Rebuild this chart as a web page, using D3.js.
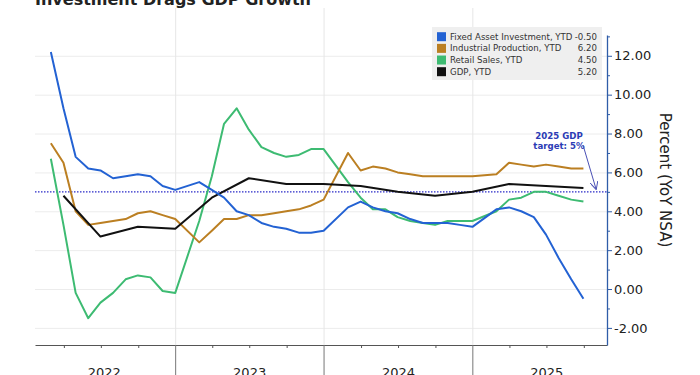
<!DOCTYPE html>
<html>
<head>
<meta charset="utf-8">
<script src="https://cdn.jsdelivr.net/npm/d3@7"></script>
<style>
  html, body { margin: 0; padding: 0; background: #fff; }
  svg { display: block; font-family: "DejaVu Sans", Verdana, sans-serif; }
  .grid line { stroke: #ececec; }
  .grid path { display: none; }
</style>
</head>
<body>
<div id="chart"></div>
<script>
// monthly YTD series (no January release)
var months = [
  "2022-02","2022-03","2022-04","2022-05","2022-06","2022-07","2022-08","2022-09","2022-10","2022-11","2022-12",
  "2023-02","2023-03","2023-04","2023-05","2023-06","2023-07","2023-08","2023-09","2023-10","2023-11","2023-12",
  "2024-02","2024-03","2024-04","2024-05","2024-06","2024-07","2024-08","2024-09","2024-10","2024-11","2024-12",
  "2025-02","2025-03","2025-04","2025-05","2025-06","2025-07","2025-08","2025-09"
];
var faiValues = [
  12.2, 9.3, 6.8, 6.2, 6.1, 5.7, 5.8, 5.9, 5.8, 5.3, 5.1,
  5.5, 5.1, 4.7, 4.0, 3.8, 3.4, 3.2, 3.1, 2.9, 2.9, 3.0,
  4.2, 4.5, 4.2, 4.0, 3.9, 3.6, 3.4, 3.4, 3.4, 3.3, 3.2,
  4.1, 4.2, 4.0, 3.7, 2.8, 1.6, 0.5, -0.5
];
var ipValues = [
  7.5, 6.5, 4.0, 3.3, 3.4, 3.5, 3.6, 3.9, 4.0, 3.8, 3.6,
  2.4, 3.0, 3.6, 3.6, 3.8, 3.8, 3.9, 4.0, 4.1, 4.3, 4.6,
  7.0, 6.1, 6.3, 6.2, 6.0, 5.9, 5.8, 5.8, 5.8, 5.8, 5.8,
  5.9, 6.5, 6.4, 6.3, 6.4, 6.3, 6.2, 6.2
];
var rsValues = [
  6.7, 3.3, -0.2, -1.5, -0.7, -0.2, 0.5, 0.7, 0.6, -0.1, -0.2,
  3.5, 5.8, 8.5, 9.3, 8.2, 7.3, 7.0, 6.8, 6.9, 7.2, 7.2,
  5.5, 4.7, 4.1, 4.1, 3.7, 3.5, 3.4, 3.3, 3.5, 3.5, 3.5,
  4.0, 4.6, 4.7, 5.0, 5.0, 4.8, 4.6, 4.5
];
// quarterly GDP YTD
var gdpMonths = [
  "2022-03","2022-06","2022-09","2022-12",
  "2023-03","2023-06","2023-09","2023-12",
  "2024-03","2024-06","2024-09","2024-12",
  "2025-03","2025-06","2025-09"
];
var gdpValues = [4.8, 2.7, 3.2, 3.1, 4.7, 5.7, 5.4, 5.4, 5.3, 5.0, 4.8, 5.0, 5.4, 5.3, 5.2];

var seriesNames = ["Fixed Asset Investment, YTD", "Industrial Production, YTD", "Retail Sales, YTD", "GDP, YTD"];
var seriesColors = ["#2362d3", "#bb7f22", "#3dbb72", "#111111"];
var lastValues = ["-0.50", "6.20", "4.50", "5.20"];
var yTicks = [-2, 0, 2, 4, 6, 8, 10, 12];
var yMinorTicks = [-1, 1, 3, 5, 7, 9, 11, 13];
var years = [2022, 2023, 2024, 2025];
var targetValue = 5;

function monthEnd(s) {
    var p = s.split("-");
    return new Date(+p[0], +p[1], 0);
}

var W = 700, H = 375;
var plotLeft = 35, plotRight = 607, plotTop = 35, plotBottom = 345;

var svg = d3.select("#chart").append("svg")
    .attr("width", W).attr("height", H)
    .attr("viewBox", "0 0 " + W + " " + H);

var x = d3.scaleTime()
    .domain([new Date(2022, 0, 20), new Date(2025, 10, 27)])
    .range([plotLeft, plotRight]);
var y = d3.scaleLinear()
    .domain([-2.88, 13.07])
    .range([plotBottom, plotTop]);

// gridlines
svg.append("g")
    .attr("class", "grid")
    .attr("transform", "translate(" + plotLeft + ",0)")
    .call(d3.axisRight(y).tickValues(yTicks).tickSize(plotRight - plotLeft).tickFormat(""));

var yearStarts = years.slice(1).map(function(yr) { return new Date(yr, 0, 1); });
svg.append("g").selectAll("line")
    .data(yearStarts)
    .enter().append("line")
    .attr("x1", function(d) { return x(d); }).attr("x2", function(d) { return x(d); })
    .attr("y1", 8).attr("y2", plotBottom)
    .attr("stroke", "#e6e6e6");

// title (cropped at top)
svg.append("text")
    .attr("x", plotLeft).attr("y", 5)
    .style("font-size", "16px").style("font-weight", "bold")
    .style("fill", "#222")
    .text("Investment Drags GDP Growth");

// x axis
var quarters = [];
years.forEach(function(yr) {
    [3, 6, 9].forEach(function(m) { quarters.push(new Date(yr, m, 1)); });
});
var xAxis = svg.append("g")
    .attr("transform", "translate(0," + plotBottom + ")")
    .call(d3.axisBottom(x).tickValues(quarters).tickSize(3).tickFormat("").tickSizeOuter(0));
xAxis.select(".domain").attr("stroke", "#555");
xAxis.selectAll(".tick line").attr("stroke", "#555");

svg.append("g").selectAll("line")
    .data(yearStarts)
    .enter().append("line")
    .attr("x1", function(d) { return x(d); }).attr("x2", function(d) { return x(d); })
    .attr("y1", plotBottom).attr("y2", H)
    .attr("stroke", "#777");

svg.append("g").selectAll("text")
    .data(years)
    .enter().append("text")
    .attr("x", function(d) { return x(new Date(d, 6, 2)) + (d === 2022 ? 3 : 0); })
    .attr("y", 377)
    .attr("text-anchor", "middle")
    .style("font-size", "13px")
    .style("fill", "#222")
    .text(function(d) { return d; });

// y axis (right)
var fmt = d3.format(".2f");
var yAxis = svg.append("g")
    .attr("transform", "translate(" + plotRight + ",0)")
    .call(d3.axisRight(y).tickValues(yTicks).tickSize(5).tickPadding(2)
        .tickFormat(function(d) { return d < 0 ? "-" + fmt(-d) : fmt(d); }).tickSizeOuter(0));
yAxis.select(".domain").attr("stroke", "#2f5da8").attr("stroke-width", 1.3);
yAxis.selectAll(".tick line").attr("stroke", "#2f5da8");
yAxis.selectAll(".tick text")
    .style("font-size", "13px")
    .style("font-family", "DejaVu Sans, Verdana, sans-serif")
    .style("fill", "#222");

svg.append("g")
    .attr("transform", "translate(" + plotRight + ",0)")
    .call(d3.axisRight(y).tickValues(yMinorTicks.filter(function(v) { return v <= y.domain()[1]; }))
        .tickSize(3).tickFormat("").tickSizeOuter(0))
    .call(function(g) {
        g.select(".domain").remove();
        g.selectAll(".tick line").attr("stroke", "#2f5da8");
    });

svg.append("text")
    .attr("transform", "translate(665,180) rotate(90)")
    .attr("text-anchor", "middle")
    .attr("dominant-baseline", "central")
    .style("font-size", "15px")
    .style("fill", "#222")
    .text("Percent (YoY NSA)");

// target line
svg.append("line")
    .attr("x1", plotLeft).attr("x2", plotRight)
    .attr("y1", y(targetValue)).attr("y2", y(targetValue))
    .attr("stroke", "#2a2ac8")
    .attr("stroke-width", 1.2)
    .attr("stroke-dasharray", "1.5,1.5");

// series lines
var line = d3.line()
    .x(function(d) { return x(d.date); })
    .y(function(d) { return y(d.value); });

function toPoints(labels, values) {
    return labels.map(function(m, i) { return { date: monthEnd(m), value: values[i] }; });
}

var seriesData = [
    toPoints(months, faiValues),
    toPoints(months, ipValues),
    toPoints(months, rsValues),
    toPoints(gdpMonths, gdpValues)
];

// draw order: green, orange, black, blue on top
[2, 1, 3, 0].forEach(function(i) {
    svg.append("path")
        .datum(seriesData[i])
        .attr("fill", "none")
        .attr("stroke", seriesColors[i])
        .attr("stroke-width", 2)
        .attr("stroke-linejoin", "round")
        .attr("d", line);
});

// annotation
var ann = svg.append("g")
    .style("font-size", "8.6px")
    .style("font-weight", "bold")
    .style("fill", "#2b3bb5");
ann.append("text").attr("x", 559).attr("y", 138.5).attr("text-anchor", "middle").text("2025 GDP");
ann.append("text").attr("x", 559).attr("y", 148.5).attr("text-anchor", "middle").text("target: 5%");

svg.append("defs").append("marker")
    .attr("id", "arrow")
    .attr("viewBox", "0 0 10 10")
    .attr("refX", 9).attr("refY", 5)
    .attr("markerWidth", 8).attr("markerHeight", 8)
    .attr("orient", "auto")
    .append("path")
    .attr("d", "M0,0 L10,5 L0,10")
    .attr("fill", "none")
    .attr("stroke", "#4a50b5")
    .attr("stroke-width", 1.2);

svg.append("line")
    .attr("x1", 583).attr("y1", 145)
    .attr("x2", 596).attr("y2", y(targetValue) - 3)
    .attr("stroke", "#4a50b5")
    .attr("stroke-width", 1)
    .attr("marker-end", "url(#arrow)");

// legend
var legend = svg.append("g");
legend.append("rect")
    .attr("x", 432).attr("y", 27)
    .attr("width", 170).attr("height", 53)
    .attr("fill", "#efefef");

var rowY = d3.scalePoint().domain(d3.range(seriesNames.length)).range([36.7, 71.7]);
var rows = legend.selectAll(".row")
    .data(seriesNames)
    .enter().append("g")
    .attr("transform", function(d, i) { return "translate(0," + rowY(i) + ")"; });
rows.append("rect")
    .attr("x", 437).attr("y", -4.5)
    .attr("width", 9).attr("height", 9)
    .attr("fill", function(d, i) { return seriesColors[i]; });
rows.append("text")
    .attr("x", 450).attr("y", 3)
    .style("font-size", "8.6px")
    .style("fill", "#333")
    .text(function(d) { return d; });
rows.append("text")
    .attr("x", 597).attr("y", 3)
    .attr("text-anchor", "end")
    .style("font-size", "8.6px")
    .style("fill", "#333")
    .text(function(d, i) { return lastValues[i]; });
</script>
</body>
</html>
